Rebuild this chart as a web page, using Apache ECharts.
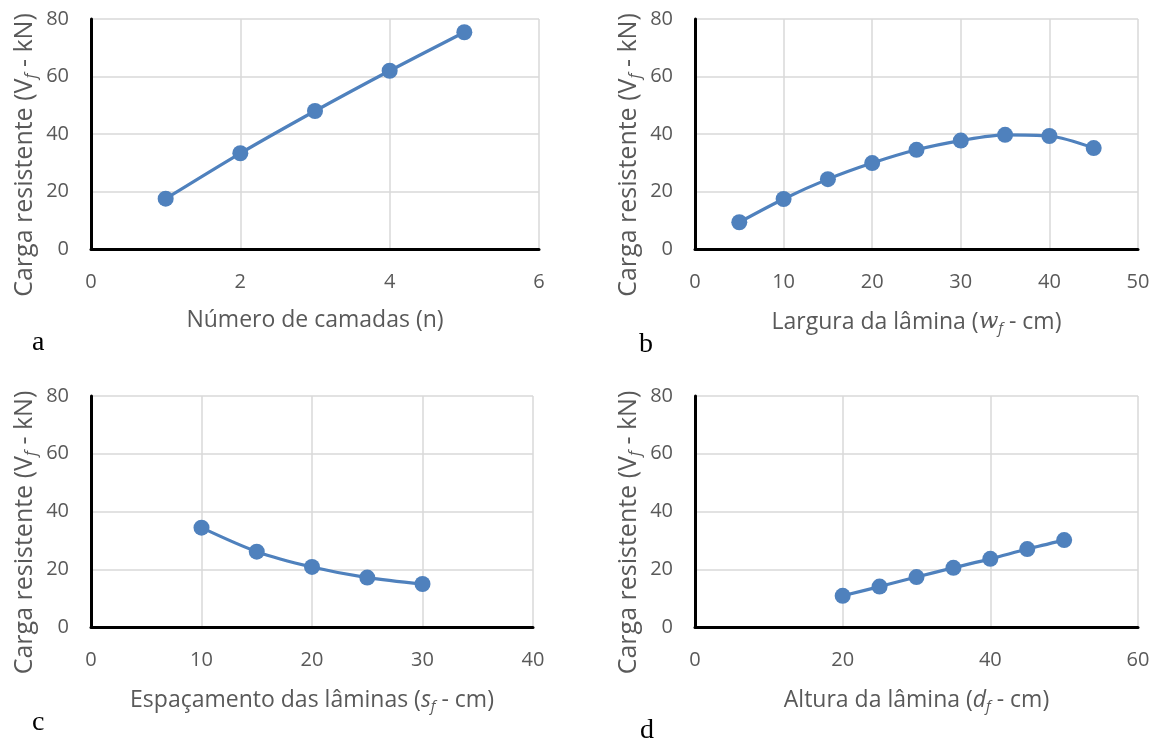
<!DOCTYPE html>
<html><head><meta charset="utf-8">
<script src="https://cdn.jsdelivr.net/npm/echarts@6/dist/echarts.min.js"></script>
<style>html,body{margin:0;padding:0;background:#fff}#c{width:1161px;height:740px}</style>
</head><body><div id="c"></div>
<script>
// Data
const aX = [1, 2, 3, 4, 5];
const aY = [17.5, 33.3, 48, 62, 75.4];
const bX = [5, 10, 15, 20, 25, 30, 35, 40, 45];
const bY = [9.3, 17.4, 24.3, 29.9, 34.5, 37.7, 39.7, 39.3, 35.1];
const cX = [10, 15, 20, 25, 30];
const cY = [34.4, 26.1, 20.8, 17.1, 14.9];
const dX = [20, 25, 30, 35, 40, 45, 50];
const dY = [10.8, 14.0, 17.3, 20.5, 23.6, 27.0, 30.1];
const xMax = [6, 50, 40, 60];
const xInt = [2, 10, 10, 20];
const yMax = 80, yInt = 20;
const xNames = [
  'Número de camadas (n)',
  'Largura da lâmina ({w|w}{sub|f} - cm)',
  'Espaçamento das lâminas ({i|s}{sub|f} - cm)',
  'Altura da lâmina ({i|d}{sub|f} - cm)'
];
const yName = 'Carga resistente (V{ysub|f} - kN)';
const panelLetters = ['a', 'b', 'c', 'd'];

const FONT = '"Open Sans", sans-serif';
const GREY = '#595959';
const BLUE = '#4F81BD';
const grids = [
  {left: 91, top: 19, width: 448, height: 230},
  {left: 695, top: 19, width: 443, height: 230},
  {left: 91, top: 396, width: 442, height: 231},
  {left: 695, top: 396, width: 443, height: 231}
];
const rich = {
  sub: {fontSize: 15, fontStyle: 'italic', fontFamily: FONT, color: GREY, padding: [12, 0, 0, 0]},
  ysub: {fontSize: 16, fontStyle: 'italic', fontFamily: FONT, color: GREY, padding: [13, 0, 0, 0]},
  i: {fontSize: 23, fontStyle: 'italic', fontFamily: FONT, color: GREY},
  w: {fontSize: 23, fontStyle: 'italic', fontFamily: '"DejaVu Serif", serif', color: GREY}
};
const series = [[aX, aY], [bX, bY], [cX, cY], [dX, dY]];
const xAxis = [], yAxis = [], ser = [];
for (let k = 0; k < 4; k++) {
  xAxis.push({
    type: 'value', gridIndex: k, min: 0, max: xMax[k], interval: xInt[k],
    name: xNames[k], nameLocation: 'middle', nameGap: 60,
    nameTextStyle: {fontSize: 23, color: GREY, fontFamily: FONT, rich: rich},
    axisLine: {show: true, onZero: false, lineStyle: {color: '#000', width: 3}},
    axisTick: {show: false},
    axisLabel: {fontSize: 20, color: GREY, fontFamily: FONT, margin: 23},
    splitLine: {show: true, lineStyle: {color: '#d9d9d9', width: 1.5}}
  });
  yAxis.push({
    type: 'value', gridIndex: k, min: 0, max: yMax, interval: yInt,
    name: yName, nameLocation: 'middle', nameGap: 52,
    nameTextStyle: {fontSize: 25, color: GREY, fontFamily: FONT, rich: rich, padding: [0, 42, 0, 0]},
    axisLine: {show: true, onZero: false, lineStyle: {color: '#000', width: 3}},
    axisTick: {show: false},
    axisLabel: {fontSize: 20, color: GREY, fontFamily: FONT, margin: 22},
    splitLine: {show: true, lineStyle: {color: '#d9d9d9', width: 1.5}}
  });
  ser.push({
    type: 'line', xAxisIndex: k, yAxisIndex: k, smooth: 0.3,
    data: series[k][0].map((x, j) => [x, series[k][1][j]]),
    symbol: 'circle', symbolSize: 16, z: 5,
    lineStyle: {color: BLUE, width: 3.2},
    itemStyle: {color: BLUE}
  });
}
const letterPos = [[40, 342], [647, 344], [40, 722], [648, 730]];
const graphic = panelLetters.map((t, i) => ({
  type: 'text', left: letterPos[i][0] - 8, top: letterPos[i][1] - 13,
  style: {text: t, font: '28px "Liberation Serif", serif', fill: '#000'}
}));
const chart = echarts.init(document.getElementById('c'), null, {renderer: 'canvas'});
chart.setOption({
  animation: false,
  grid: grids,
  xAxis: xAxis, yAxis: yAxis, series: ser, graphic: graphic
});
</script></body></html>
